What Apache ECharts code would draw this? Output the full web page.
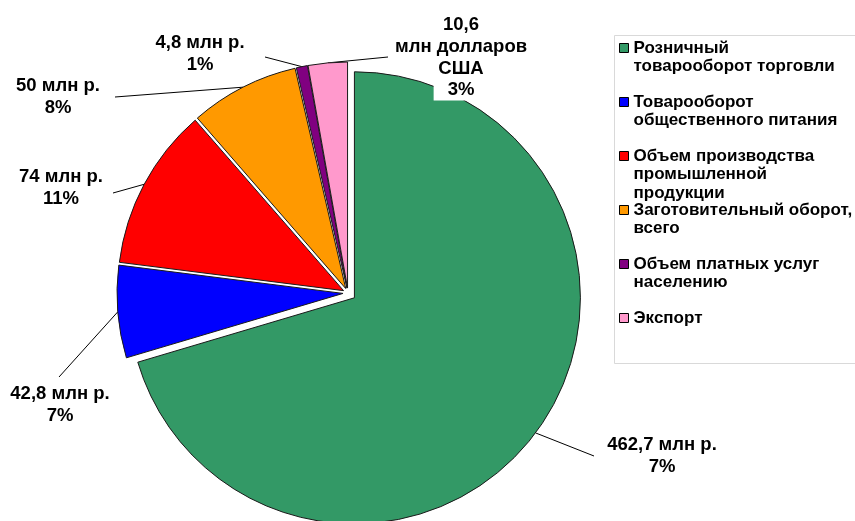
<!DOCTYPE html>
<html>
<head>
<meta charset="utf-8">
<script src="https://cdn.jsdelivr.net/npm/echarts@6/dist/echarts.min.js"></script>
<style>html,body{margin:0;padding:0;background:#fff}#c{width:855px;height:521px}</style>
</head>
<body>
<div id="c"></div>
<script>
// ---- data ----
const categories = [
  'Розничный товарооборот торговли',
  'Товарооборот общественного питания',
  'Объем производства промышленной продукции',
  'Заготовительный оборот, всего',
  'Объем платных услуг населению',
  'Экспорт'
];
const legendLines = [
  ['Розничный', 'товарооборот торговли'],
  ['Товарооборот', 'общественного питания'],
  ['Объем производства', 'промышленной', 'продукции'],
  ['Заготовительный оборот,', 'всего'],
  ['Объем платных услуг', 'населению'],
  ['Экспорт']
];
const amountLabels = ['462,7 млн р.', '42,8 млн р.', '74 млн р.', '50 млн р.', '4,8 млн р.', '10,6\nмлн долларов\nСША'];
const percentLabels = ['7%', '7%', '11%', '8%', '1%', '3%'];
// slice shares as drawn in the picture (percent of the circle)
const shares = [70.4, 6.6, 11.6, 7.8, 0.8, 2.8];
const colors = ['#339966', '#0000ff', '#ff0000', '#ff9900', '#800080', '#ff99cc'];

// ---- layout (not data) ----
const labelPos = [[662, 456], [60, 405], [61, 187.5], [58, 96.5], [200, 54], [461, 57.5]];
const lineEnds = [[594, 456], [59, 377], [113, 193], [115, 97], [265, 57], [388, 57]];
const legendFirstLineY = [48, 102, 156, 210, 264, 318];
const LH = 18.5;
const OFFSET_OTHERS = 5, OFFSET_MAIN = 8;

const total = shares.reduce((a, b) => a + b, 0);
function midAngle(i) {
  let before = 0;
  for (let k = 0; k < i; k++) before += shares[k];
  return (before + shares[i] / 2) / total * 2 * Math.PI;
}
function sliceOffset(i) {
  const off = i === 0 ? OFFSET_MAIN : OFFSET_OTHERS;
  const a = midAngle(i);
  return [off * Math.sin(a), -off * Math.cos(a)];
}

const chart = echarts.init(document.getElementById('c'), null, {renderer: 'canvas'});

function makeData(visibleFn) {
  return categories.map((name, i) => {
    const vis = visibleFn(i);
    return {
      name: name,
      value: shares[i],
      selected: true,
      itemStyle: vis ? {color: colors[i], borderColor: '#1a1a1a', borderWidth: 1}
                     : {color: 'rgba(0,0,0,0)', borderWidth: 0},
      label: {show: vis},
      labelLine: {show: vis}
    };
  });
}

const FONT = 'Liberation Sans, Arial, sans-serif';
const LFS = 18.5, LLH = 22;
const labelCommon = {
  show: true,
  position: 'outside',
  fontFamily: FONT,
  fontWeight: 'bold',
  fontSize: LFS,
  lineHeight: LLH,
  color: '#000',
  formatter: function (p) {
    const i = p.dataIndex;
    if (i === 5) return '{a|' + amountLabels[i] + '}\n{w|' + percentLabels[i] + '}';
    return '{a|' + amountLabels[i] + '}\n{a|' + percentLabels[i] + '}';
  },
  rich: {
    a: {fontFamily: FONT, fontWeight: 'bold', fontSize: LFS, lineHeight: LLH, color: '#000', align: 'center'},
    w: {fontFamily: FONT, fontWeight: 'bold', fontSize: LFS, lineHeight: LLH, color: '#000', align: 'center',
        backgroundColor: '#fff', padding: [0, 14, 1, 14]}
  }
};

function layoutFn(params) {
  const i = params.dataIndex;
  const r = params.labelRect;
  if (!r) return {};
  const off = sliceOffset(i);
  const cx = r.x + r.width / 2, cy = r.y + r.height / 2;
  const res = {dx: labelPos[i][0] - off[0] - cx, dy: labelPos[i][1] - off[1] - cy};
  if (params.labelLinePoints && params.labelLinePoints[0]) {
    res.labelLinePoints = [params.labelLinePoints[0].slice(), [lineEnds[i][0] - off[0], lineEnds[i][1] - off[1]]];
  }
  return res;
}

const seriesCommon = {
  type: 'pie',
  center: [348, 293],
  radius: 226,
  startAngle: 90,
  clockwise: true,
  selectedMode: 'multiple',
  avoidLabelOverlap: false,
  animation: false,
  emphasis: {disabled: true},
  label: labelCommon,
  labelLine: {show: true, length: 10, length2: 10, lineStyle: {color: '#000', width: 1}},
  labelLayout: layoutFn
};

const legends = categories.map((name, i) => {
  const n = legendLines[i].length;
  return {
    left: 619,
    top: legendFirstLineY[i] - (2 * n - 1) * LH / 2,
    padding: 0,
    orient: 'vertical',
    itemWidth: 9,
    itemHeight: 9,
    itemGap: 0,
    selectedMode: false,
    icon: 'rect',
    data: [{name: name, itemStyle: {color: colors[i], borderColor: '#000', borderWidth: 1}}],
    formatter: function () {
      const pad = new Array(n - 1).fill('');
      return pad.concat(legendLines[i]).join('\n');
    },
    textStyle: {fontFamily: FONT, fontWeight: 'bold', fontSize: 17, lineHeight: LH, color: '#000'}
  };
});

chart.setOption({
  backgroundColor: '#fff',
  animation: false,
  legend: legends,
  graphic: [{
    type: 'rect', z: -1,
    shape: {x: 614.5, y: 35.5, width: 260, height: 328},
    style: {fill: 'none', stroke: '#d9d9d9', lineWidth: 1}
  }],
  series: [
    Object.assign({}, seriesCommon, {name: 'others', selectedOffset: OFFSET_OTHERS, data: makeData(i => i !== 0)}),
    Object.assign({}, seriesCommon, {name: 'main', selectedOffset: OFFSET_MAIN, data: makeData(i => i === 0)})
  ]
});
</script>
</body>
</html>
